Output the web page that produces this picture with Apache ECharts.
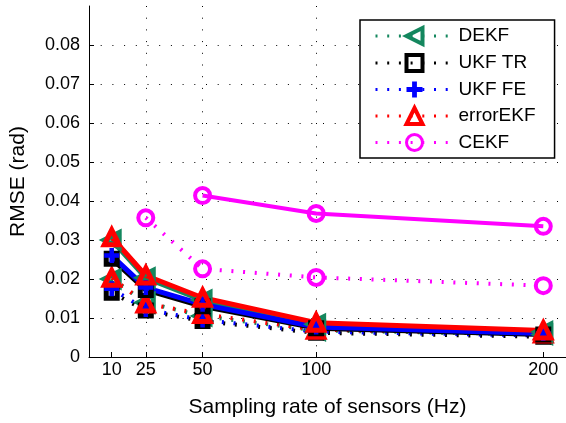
<!DOCTYPE html>
<html>
<head>
<meta charset="utf-8">
<script src="https://cdn.jsdelivr.net/npm/echarts@6/dist/echarts.min.js"></script>
<style>
  html, body { margin: 0; padding: 0; background: #fff; }
  #chart { width: 566px; height: 423px; }
</style>
</head>
<body>
<div id="chart"></div>
<script>
// sampling rates (Hz) - also used as x tick values
const rates = [10, 25, 50, 100, 200];

// dotted runs (legend style)
const dekfDot     = [0.0200, 0.0140, 0.0105, 0.0068, 0.0058];
const ukfTrDot    = [0.0165, 0.0119, 0.0092, 0.0062, 0.0052];
const ukfFeDot    = [0.0175, 0.0122, 0.0095, 0.0065, 0.0055];
const errorEkfDot = [0.0203, 0.0137, 0.0110, 0.0070, 0.0060];
const cekfDot     = [null, 0.0357, 0.0226, 0.0204, 0.0183];

// solid runs
const dekfSolid     = [0.0300, 0.0203, 0.0146, 0.0084, 0.0065];
const ukfTrSolid    = [0.0252, 0.0172, 0.0130, 0.0074, 0.0058];
const ukfFeSolid    = [0.0260, 0.0178, 0.0135, 0.0077, 0.0060];
const errorEkfSolid = [0.0307, 0.0209, 0.0152, 0.0088, 0.0068];
const cekfSolid     = [null, null, 0.0414, 0.0368, 0.0335];

const FONT = "'Liberation Sans', Arial, sans-serif";
const plusPath = 'path://M3.5,0H6.5V3.5H10V6.5H6.5V10H3.5V6.5H0V3.5H3.5Z';

const methods = [
  { name: 'DEKF', color: '#14875e', symbol: 'triangle', rotate: 90, size: 15, border: 5, dot: dekfDot, solid: dekfSolid },
  { name: 'UKF TR', color: '#000000', symbol: 'rect', rotate: 0, size: 11, border: 5, dot: ukfTrDot, solid: ukfTrSolid },
  { name: 'UKF FE', color: '#0000ff', symbol: plusPath, rotate: 0, size: 15, border: 0, dot: ukfFeDot, solid: ukfFeSolid },
  { name: 'errorEKF', color: '#ff0000', symbol: 'triangle', rotate: 0, size: 15, border: 5, dot: errorEkfDot, solid: errorEkfSolid },
  { name: 'CEKF', color: '#ff00ff', symbol: 'circle', rotate: 0, size: 15, border: 4, dot: cekfDot, solid: cekfSolid }
];

function pairs(vals) {
  return rates.map((r, i) => [r, vals[i]]).filter(p => p[1] != null);
}

function makeSeries(m, vals, dotted) {
  const filled = m.border === 0;
  return {
    name: m.name,
    type: 'line',
    data: pairs(vals),
    symbol: m.symbol,
    symbolSize: m.size,
    symbolRotate: m.rotate,
    showAllSymbol: true,
    animation: false,
    lineStyle: dotted
      ? { color: m.color, width: 4, type: [2, 9.7] }
      : { color: m.color, width: m.name === 'CEKF' ? 4 : 5, type: 'solid' },
    itemStyle: {
      color: filled ? m.color : 'rgba(0,0,0,0)',
      borderColor: m.color,
      borderWidth: m.border
    },
    emphasis: { disabled: true }
  };
}

const series = [];
methods.forEach(m => series.push(makeSeries(m, m.dot, true)));
methods.forEach(m => series.push(makeSeries(m, m.solid, false)));

const gridDots = { color: '#000', width: 1, type: [1, 10.7] };

const chart = echarts.init(document.getElementById('chart'), null, { renderer: 'canvas' });
chart.setOption({
  backgroundColor: '#fff',
  textStyle: { fontFamily: FONT },
  grid: { left: 89, right: -2, top: 6, bottom: 66 },
  legend: {
    left: 360,
    top: 20,
    orient: 'vertical',
    data: methods.map(m => ({
      name: m.name,
      itemStyle: { borderWidth: m.border > 0 ? m.border - 1 : 0 },
      lineStyle: { width: 3 }
    })),
    itemWidth: 78,
    itemHeight: 20,
    itemGap: 7,
    padding: [6, 19, 6, 14],
    backgroundColor: '#fff',
    borderColor: '#000',
    borderWidth: 1.5,
    borderRadius: 0,
    textStyle: { fontSize: 19, color: '#000', fontFamily: FONT }
  },
  xAxis: {
    type: 'value',
    min: 0,
    max: 210,
    name: 'Sampling rate of sensors (Hz)',
    nameLocation: 'middle',
    nameGap: 40,
    nameTextStyle: { fontSize: 21, color: '#000', fontFamily: FONT },
    axisLine: { show: true, lineStyle: { color: '#000', width: 1 } },
    axisTick: { show: true, inside: true, length: 5, customValues: rates, lineStyle: { color: '#000' } },
    axisLabel: { customValues: rates, fontSize: 18, color: '#000', margin: 4, fontFamily: FONT },
    splitLine: { show: true, customValues: rates, showMinLine: false, showMaxLine: false, lineStyle: gridDots }
  },
  yAxis: {
    type: 'value',
    min: 0,
    max: 0.09,
    interval: 0.01,
    name: 'RMSE (rad)',
    nameLocation: 'middle',
    nameGap: 60,
    nameTextStyle: { fontSize: 21, color: '#000', fontFamily: FONT },
    axisLine: { show: true, lineStyle: { color: '#000', width: 1 } },
    axisTick: { show: true, inside: true, length: 5, lineStyle: { color: '#000' } },
    axisLabel: { fontSize: 18, color: '#000', margin: 9, showMaxLabel: false, fontFamily: FONT },
    splitLine: { show: true, showMinLine: false, showMaxLine: false, lineStyle: gridDots }
  },
  series: series
});
</script>
</body>
</html>
